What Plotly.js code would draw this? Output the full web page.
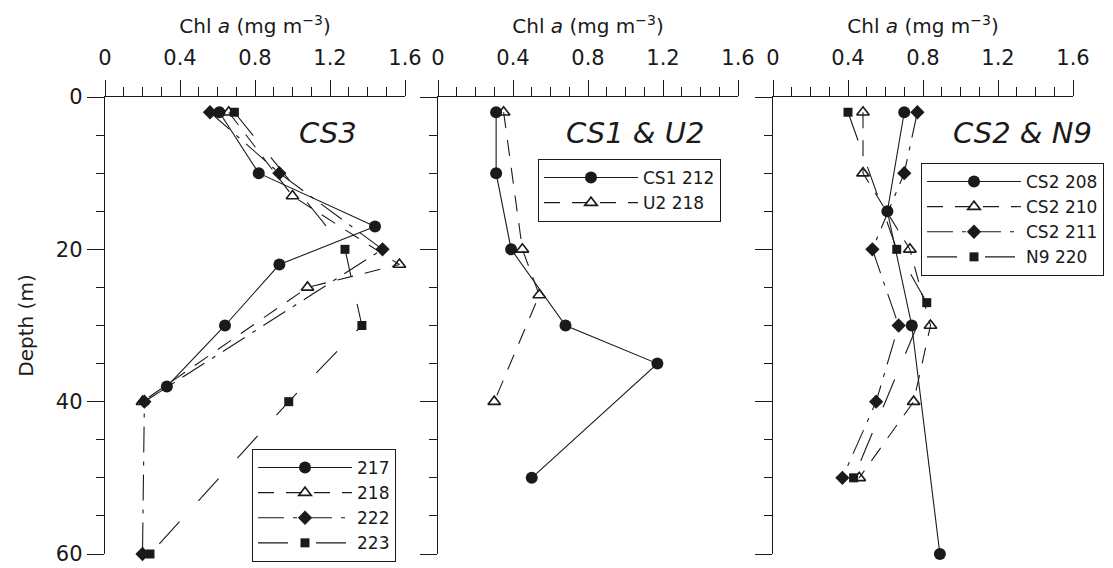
<!DOCTYPE html>
<html>
<head>
<meta charset="utf-8">
<script src="https://cdn.plot.ly/plotly-3.0.1.min.js"></script>
<style>html,body{margin:0;padding:0;background:#fff;}#chart{width:1113px;height:568px;}</style>
</head>
<body>
<div id="chart"></div>
<script>
// ---- Panel CS3 ----
const depth217 = [2, 10, 17, 22, 30, 38];
const chl217   = [0.61, 0.82, 1.44, 0.93, 0.64, 0.33];
const depth218 = [2, 13, 22, 25, 40];
const chl218   = [0.66, 1.00, 1.57, 1.08, 0.20];
const depth222 = [2, 10, 20, 40, 60];
const chl222   = [0.56, 0.93, 1.48, 0.21, 0.20];
const depth223 = [2, 20, 30, 40, 60];
const chl223   = [0.69, 1.28, 1.37, 0.98, 0.24];

// ---- Panel CS1 & U2 ----
const depthCS1_212 = [2, 10, 20, 30, 35, 50];
const chlCS1_212   = [0.31, 0.31, 0.39, 0.68, 1.17, 0.50];
const depthU2_218  = [2, 20, 26, 40];
const chlU2_218    = [0.35, 0.45, 0.54, 0.30];

// ---- Panel CS2 & N9 ----
const depthCS2_208 = [2, 15, 30, 60];
const chlCS2_208   = [0.70, 0.61, 0.74, 0.89];
const depthCS2_210 = [2, 10, 20, 30, 40, 50];
const chlCS2_210   = [0.48, 0.48, 0.73, 0.84, 0.75, 0.46];
const depthCS2_211 = [2, 10, 20, 30, 40, 50];
const chlCS2_211   = [0.77, 0.70, 0.53, 0.67, 0.55, 0.37];
const depthN9_220  = [2, 20, 27, 50];
const chlN9_220    = [0.40, 0.66, 0.82, 0.43];

const panelLabels = ['CS3', 'CS1 &amp; U2', 'CS2 &amp; N9'];
const xTitle = 'Chl <i>a</i> (mg m<sup>\u22123</sup>)';
const yTitle = 'Depth (m)';

const INK = '#1a1a1a';
const FONT = 'DejaVu Sans, Liberation Sans, Arial, sans-serif';

const styles = {
  circle:   {symbol: 'circle', size: 12, color: INK, line: {width: 0}},
  triangle: {symbol: 'triangle-up-open', size: 11, color: INK, line: {width: 1.6, color: INK}},
  diamond:  {symbol: 'diamond', size: 11, color: INK, line: {width: 0}},
  square:   {symbol: 'square', size: 9, color: INK, line: {width: 0}}
};
const dashes = {
  solid: 'solid',
  dashed: '16px,12px',
  dashdot: '26px,9px,4px,9px',
  longdash: '30px,28px'
};

function tr(name, x, y, marker, dash, axisNum, legendId) {
  const sfx = axisNum === 1 ? '' : String(axisNum);
  return {
    type: 'scatter', mode: 'lines+markers', name: name,
    x: x, y: y, xaxis: 'x' + sfx, yaxis: 'y' + sfx,
    marker: styles[marker],
    line: {color: INK, width: 1.1, dash: dashes[dash]},
    legend: legendId, cliponaxis: false
  };
}

const data = [
  tr('217', chl217, depth217, 'circle', 'solid', 1, 'legend'),
  tr('218', chl218, depth218, 'triangle', 'dashed', 1, 'legend'),
  tr('222', chl222, depth222, 'diamond', 'dashdot', 1, 'legend'),
  tr('223', chl223, depth223, 'square', 'longdash', 1, 'legend'),
  tr('CS1 212', chlCS1_212, depthCS1_212, 'circle', 'solid', 2, 'legend2'),
  tr('U2 218', chlU2_218, depthU2_218, 'triangle', 'dashed', 2, 'legend2'),
  tr('CS2 208', chlCS2_208, depthCS2_208, 'circle', 'solid', 3, 'legend3'),
  tr('CS2 210', chlCS2_210, depthCS2_210, 'triangle', 'dashed', 3, 'legend3'),
  tr('CS2 211', chlCS2_211, depthCS2_211, 'diamond', 'dashdot', 3, 'legend3'),
  tr('N9 220', chlN9_220, depthN9_220, 'square', 'longdash', 3, 'legend3')
];

const W = 1113;
const doms = [[105 / W, 405 / W], [438 / W, 738 / W], [773 / W, 1073 / W]];

function xax(i) {
  return {
    domain: doms[i], anchor: i === 0 ? 'y' : 'y' + (i + 1), side: 'top',
    range: [0, 1.6], tick0: 0, dtick: 0.4, ticks: 'outside', ticklen: 16, tickwidth: 1,
    tickcolor: INK, showline: true, linecolor: INK, linewidth: 1.2,
    showgrid: false, zeroline: false,
    minor: {dtick: 0.1, ticks: 'outside', ticklen: 9, tickwidth: 1, tickcolor: INK, showgrid: false},
    tickfont: {family: FONT, size: 21, color: INK},
    ticklabelstandoff: 6,
    title: {text: xTitle, font: {family: FONT, size: 20, color: INK}, standoff: 7},
    fixedrange: true
  };
}
function yax(i) {
  const ax = {
    domain: [0, 1], anchor: i === 0 ? 'x' : 'x' + (i + 1),
    range: [60, 0], tick0: 0, dtick: 20, ticks: 'outside', ticklen: 17, tickwidth: 1,
    tickcolor: INK, showline: true, linecolor: INK, linewidth: 1.2,
    showgrid: false, zeroline: false, showticklabels: i === 0,
    minor: {dtick: 5, ticks: 'outside', ticklen: 8, tickwidth: 1, tickcolor: INK, showgrid: false},
    tickfont: {family: FONT, size: 21, color: INK},
    fixedrange: true
  };
  if (i === 0) ax.title = {text: yTitle, font: {family: FONT, size: 20, color: INK}, standoff: 16};
  return ax;
}

const TOPM = 97, PLOT_H = 568 - 97 - 14;
function py(pix) { return 1 - (pix - TOPM) / PLOT_H; }

const legendBase = {
  bgcolor: '#ffffff', bordercolor: INK, borderwidth: 1,
  font: {family: FONT, size: 17, color: INK},
  xanchor: 'left', yanchor: 'top', itemwidth: 94, tracegroupgap: 0,
  itemclick: false, itemdoubleclick: false
};

const labelFont = {family: FONT, size: 29, color: INK};
const layout = {
  width: 1113, height: 568,
  margin: {l: 0, r: 0, t: TOPM, b: 14},
  paper_bgcolor: '#ffffff', plot_bgcolor: 'rgba(0,0,0,0)',
  font: {family: FONT, color: INK},
  showlegend: true,
  xaxis: xax(0), xaxis2: xax(1), xaxis3: xax(2),
  yaxis: yax(0), yaxis2: yax(1), yaxis3: yax(2),
  legend: Object.assign({}, legendBase, {x: 252 / W, y: py(449)}),
  legend2: Object.assign({}, legendBase, {x: 538 / W, y: py(159)}),
  legend3: Object.assign({}, legendBase, {x: 921 / W, y: py(163)}),
  annotations: [
    {text: '<i>' + panelLabels[0] + '</i>', xref: 'paper', yref: 'paper', x: 328 / W, y: py(133), showarrow: false, xanchor: 'center', yanchor: 'middle', font: labelFont},
    {text: '<i>' + panelLabels[1] + '</i>', xref: 'paper', yref: 'paper', x: 635 / W, y: py(133), showarrow: false, xanchor: 'center', yanchor: 'middle', font: labelFont},
    {text: '<i>' + panelLabels[2] + '</i>', xref: 'paper', yref: 'paper', x: 1022 / W, y: py(133), showarrow: false, xanchor: 'center', yanchor: 'middle', font: labelFont}
  ]
};

Plotly.newPlot('chart', data, layout, {displayModeBar: false, staticPlot: true});
</script>
</body>
</html>
